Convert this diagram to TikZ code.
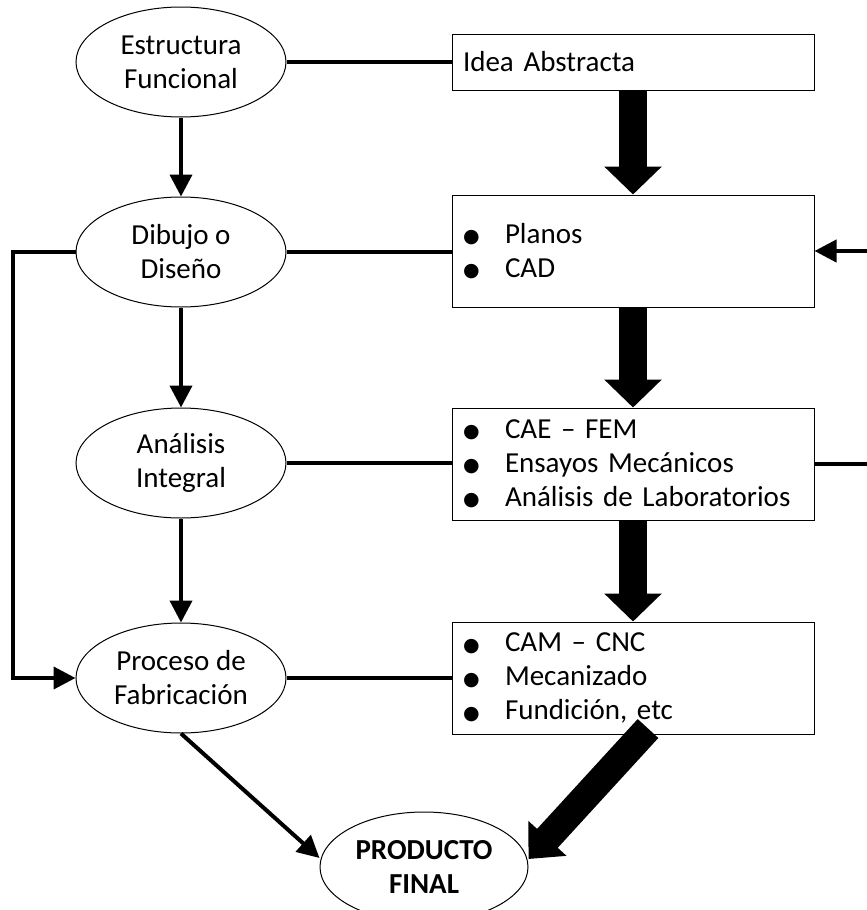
\documentclass[tikz,border=0pt]{standalone}
\usepackage{fontspec}
\setmainfont{Carlito}
\newfontfamily\symfont{DejaVu Sans}
\usetikzlibrary{arrows.meta,shapes.geometric,calc}
\newcommand\bitem[1]{\makebox[42pt][l]{\raisebox{0.5pt}{\symfont\fontsize{19}{19}\selectfont ●}}#1}
\tikzset{
  ell/.style={ellipse, draw, line width=1pt, minimum width=210pt, minimum height=110pt,
    inner sep=0pt, align=center, font=\fontsize{29}{34}\selectfont},
  boxx/.style={rectangle, draw, line width=1pt, minimum width=362pt, inner sep=0pt,
    text width=340pt, align=left, font=\fontsize{29}{34}\selectfont},
  con/.style={line width=4pt},
  arr/.style={line width=4pt, -{Triangle[width=22pt,length=22pt]}},
  big/.style={line width=28pt, -{Triangle[width=56pt,length=28pt]}},
}
\begin{document}
\begin{tikzpicture}[x=1pt,y=-1pt]
\useasboundingbox (0,0) rectangle (867,910);
% ellipses
\node[ell] (est) at (181,62) {Estructura\\Funcional};
\node[ell] (dib) at (181,252) {Dibujo o\\Diseño};
\node[ell] (ana) at (181,463) {Análisis\\Integral};
\node[ell] (pro) at (181,678) {Proceso de\\Fabricación};
\node[ell, minimum width=208pt, font=\fontsize{29}{34}\selectfont\bfseries] (fin) at (424,867) {PRODUCTO\\FINAL};
% boxes
\node[boxx, minimum height=56pt] (idea) at (633,62) {Idea Abstracta};
\node[boxx, minimum height=112pt] (plan) at (633,251) {\bitem{Planos}\\\bitem{CAD}};
\node[boxx, minimum height=112pt] (cae) at (633,464) {\bitem{CAE – FEM}\\\bitem{Ensayos Mecánicos}\\\bitem{Análisis de Laboratorios}};
\node[boxx, minimum height=112pt] (cam) at (633,678) {\bitem{CAM – CNC}\\\bitem{Mecanizado}\\\bitem{Fundición, etc}};
\coordinate (rin) at (867,251);
\coordinate (rout) at (867,464);
% horizontal connectors
\draw[con] (est.east) -- (est.east -| idea.west);
\draw[con] (dib.east) -- (dib.east -| plan.west);
\draw[con] (ana.east) -- (ana.east -| cae.west);
\draw[con] (pro.east) -- (pro.east -| cam.west);
% vertical arrows
\draw[arr] (est) -- (dib);
\draw[arr] (dib) -- (ana);
\draw[arr] (ana) -- (pro);
% loop
\draw[arr] (dib.west) -- ++(-63,0) |- (pro.west);
% right side
\draw[arr] (rin) -- (plan.east);
\draw[con] (cae.east) -- (rout);
% big arrows
\draw[big] (idea.south) -- (plan.north);
\draw[big] (plan.south) -- (cae.north);
\draw[big] (cae.south) -- (cam.north);
\draw[big, -{Triangle[width=50pt,length=28pt]}] ([xshift=15pt,yshift=6pt]cam.south) -- ($(fin.east)+(0,-8)$);
\draw[arr] (pro.south) -- ($(fin.west)+(0,-9)$);
\end{tikzpicture}
\end{document}
